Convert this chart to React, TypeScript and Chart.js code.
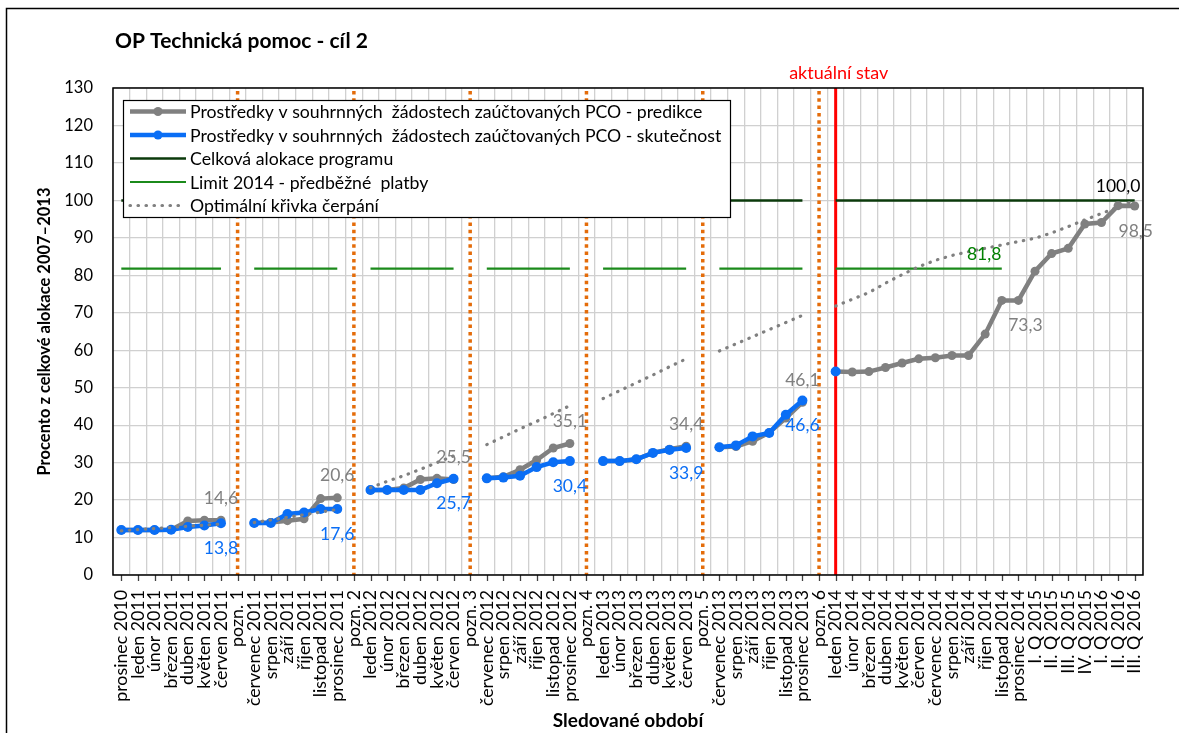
import React, { useEffect, useRef } from 'react';
import { Chart, registerables } from 'chart.js';

Chart.register(...registerables);

const FONT = "Lato, 'Open Sans', sans-serif";

const categories = [
  'prosinec 2010', 'leden 2011', 'únor 2011', 'březen 2011', 'duben 2011', 'květen 2011', 'červen 2011', 'pozn. 1',
  'červenec 2011', 'srpen 2011', 'září 2011', 'říjen 2011', 'listopad 2011', 'prosinec 2011', 'pozn. 2',
  'leden 2012', 'únor 2012', 'březen 2012', 'duben 2012', 'květen 2012', 'červen 2012', 'pozn. 3',
  'červenec 2012', 'srpen 2012', 'září 2012', 'říjen 2012', 'listopad 2012', 'prosinec 2012', 'pozn. 4',
  'leden 2013', 'únor 2013', 'březen 2013', 'duben 2013', 'květen 2013', 'červen 2013', 'pozn. 5',
  'červenec 2013', 'srpen 2013', 'září 2013', 'říjen 2013', 'listopad 2013', 'prosinec 2013', 'pozn. 6',
  'leden 2014', 'únor 2014', 'březen 2014', 'duben 2014', 'květen 2014', 'červen 2014', 'červenec 2014',
  'srpen 2014', 'září 2014', 'říjen 2014', 'listopad 2014', 'prosinec 2014',
  'I. Q 2015', 'II. Q 2015', 'III. Q 2015', 'IV. Q 2015', 'I. Q 2016', 'II. Q 2016', 'III. Q 2016',
];

const predikce = [
  12.0, 12.0, 12.0, 12.1, 14.4, 14.6, 14.6, null,
  13.9, 14.0, 14.5, 15.0, 20.4, 20.6, null,
  22.7, 22.7, 23.2, 25.5, 25.8, 25.5, null,
  25.8, 26.2, 28.1, 30.7, 33.9, 35.1, null,
  30.4, 30.4, 30.9, 32.6, 33.6, 34.4, null,
  34.1, 34.3, 35.7, 38.0, 41.9, 46.1, null,
  54.3, 54.2, 54.3, 55.4, 56.6, 57.7, 58.0, 58.6, 58.6, 64.3, 73.3, 73.3,
  81.1, 85.8, 87.2, 93.7, 94.1, 98.6, 98.5,
];

const skutecnost = [
  12.0, 12.0, 12.0, 12.1, 12.8, 13.2, 13.8, null,
  13.9, 13.9, 16.3, 16.7, 17.6, 17.6, null,
  22.7, 22.7, 22.7, 22.7, 24.5, 25.7, null,
  25.8, 26.0, 26.5, 28.8, 30.1, 30.4, null,
  30.4, 30.4, 30.9, 32.6, 33.4, 33.9, null,
  34.1, 34.6, 37.0, 37.9, 42.8, 46.6, null,
  54.3, null, null, null, null, null, null, null, null, null, null, null,
  null, null, null, null, null, null, null,
];

const alokace = [
  100, 100, 100, 100, 100, 100, 100, null,
  100, 100, 100, 100, 100, 100, null,
  100, 100, 100, 100, 100, 100, null,
  100, 100, 100, 100, 100, 100, null,
  100, 100, 100, 100, 100, 100, null,
  100, 100, 100, 100, 100, 100, null,
  100, 100, 100, 100, 100, 100, 100, 100, 100, 100, 100, 100,
  100, 100, 100, 100, 100, 100, 100,
];

const limit2014 = [
  81.8, 81.8, 81.8, 81.8, 81.8, 81.8, 81.8, null,
  81.8, 81.8, 81.8, 81.8, 81.8, 81.8, null,
  81.8, 81.8, 81.8, 81.8, 81.8, 81.8, null,
  81.8, 81.8, 81.8, 81.8, 81.8, 81.8, null,
  81.8, 81.8, 81.8, 81.8, 81.8, 81.8, null,
  81.8, 81.8, 81.8, 81.8, 81.8, 81.8, null,
  81.8, 81.8, 81.8, 81.8, 81.8, 81.8, 81.8, 81.8, 81.8, 81.8, 81.8, null,
  null, null, null, null, null, null, null,
];

const optimalni = [
  11.8, 12.1, 12.4, 12.7, 13.0, 13.3, 13.6, null,
  14.0, 14.7, 15.4, 16.1, 16.8, 17.5, null,
  23.3, 25.0, 26.5, 28.2, 30.0, 31.8, null,
  34.8, 36.9, 39.0, 41.0, 43.1, 45.2, null,
  47.1, 49.2, 51.3, 53.4, 55.6, 57.7, null,
  59.8, 61.7, 63.6, 65.5, 67.4, 69.3, null,
  71.8, 73.6, 75.4, 77.9, 80.2, 82.3, 84.0, 85.3, 86.3, 87.2, 88.1, 89.0,
  89.9, 91.3, 93.0, 94.8, 96.5, 98.2, 100.0,
];

const seriesNames = [
  'Prostředky v souhrnných  žádostech zaúčtovaných PCO - predikce',
  'Prostředky v souhrnných  žádostech zaúčtovaných PCO - skutečnost',
  'Celková alokace programu',
  'Limit 2014 - předběžné  platby',
  'Optimální křivka čerpání',
];

const poznIdx = [7, 14, 21, 28, 35, 42];
const currentIdx = 43;
const predLabelsAbove = [6, 13, 20, 27, 34, 41];
const predLabelsBelow = [54, 61];
const actLabelsBelow = [6, 13, 20, 27, 34, 41];
const alokaceLabelIdx = 60;
const limitLabelIdx = 52;

const chartTitle = 'OP Technická pomoc - cíl 2';
const currentLabel = 'aktuální stav';
const yTitle = 'Procento z celkové alokace 2007–2013';
const xTitle = 'Sledované období';

const GRAY = '#808080';
const BLUE = '#0A6EF5';
const DARKGREEN = '#0B3A0B';
const GREEN = '#1B8A1B';

const fmt = (v: number) => v.toFixed(1).replace('.', ',');

const decorPlugin = {
  id: 'decor',
  beforeDraw(chart: any) {
    const ctx = chart.ctx;
    ctx.save();
    ctx.fillStyle = '#fff';
    ctx.fillRect(0, 0, chart.width, chart.height);
    ctx.strokeStyle = '#000';
    ctx.lineWidth = 1.5;
    ctx.strokeRect(6.5, 8.5, chart.width + 20, chart.height + 20);
    ctx.fillStyle = '#000';
    ctx.font = `bold 21px ${FONT}`;
    ctx.textAlign = 'left';
    ctx.textBaseline = 'alphabetic';
    ctx.fillText(chartTitle, 115, 48);
    ctx.restore();
  },
  beforeDatasetsDraw(chart: any) {
    const { ctx, chartArea: a } = chart;
    const x = chart.scales.x;
    ctx.save();
    ctx.strokeStyle = '#E46C0A';
    ctx.lineWidth = 3.5;
    ctx.setLineDash([3.5, 3.8]);
    poznIdx.forEach((i) => {
      const px = x.getPixelForValue(i);
      ctx.beginPath();
      ctx.moveTo(px, a.top + 3);
      ctx.lineTo(px, a.bottom);
      ctx.stroke();
    });
    ctx.setLineDash([]);
    const rx = x.getPixelForValue(currentIdx);
    ctx.strokeStyle = '#FF0000';
    ctx.lineWidth = 3;
    ctx.beginPath();
    ctx.moveTo(rx, a.top);
    ctx.lineTo(rx, a.bottom);
    ctx.stroke();
    ctx.fillStyle = '#FF0000';
    ctx.font = `18px ${FONT}`;
    ctx.textAlign = 'center';
    ctx.textBaseline = 'alphabetic';
    ctx.fillText(currentLabel, rx + 3, 79);
    ctx.strokeStyle = '#404040';
    ctx.lineWidth = 1.3;
    categories.forEach((_, i) => {
      const px = Math.round(x.getPixelForValue(i)) + 0.5;
      ctx.beginPath();
      ctx.moveTo(px, a.bottom);
      ctx.lineTo(px, a.bottom + 6);
      ctx.stroke();
    });
    ctx.strokeStyle = '#000';
    ctx.lineWidth = 1.5;
    ctx.strokeRect(a.left, a.top, a.right - a.left, a.bottom - a.top);
    ctx.restore();
  },
  afterDatasetsDraw(chart: any) {
    const ctx = chart.ctx;
    ctx.save();
    const lx = 123.5, ly = 100.5, lw = 607, lh = 117;
    ctx.fillStyle = '#fff';
    ctx.fillRect(lx, ly, lw, lh);
    ctx.strokeStyle = '#000';
    ctx.lineWidth = 1.2;
    ctx.strokeRect(lx, ly, lw, lh);
    chart.data.datasets.forEach((ds: any, k: number) => {
      const ry = ly + 11 + k * 23.5;
      ctx.save();
      ctx.strokeStyle = ds.borderColor;
      ctx.lineWidth = ds.borderWidth;
      ctx.lineCap = ds.borderCapStyle || 'butt';
      ctx.setLineDash(ds.borderDash || []);
      ctx.beginPath();
      ctx.moveTo(130, ry);
      ctx.lineTo(186, ry);
      ctx.stroke();
      ctx.restore();
      if (ds.pointRadius > 0) {
        ctx.fillStyle = ds.borderColor;
        ctx.beginPath();
        ctx.arc(158, ry, 4.5, 0, Math.PI * 2);
        ctx.fill();
      }
      ctx.fillStyle = '#000';
      ctx.font = `17.7px ${FONT}`;
      ctx.textAlign = 'left';
      ctx.textBaseline = 'middle';
      ctx.fillText(ds.label, 190, ry + 1);
    });

    ctx.font = `17.5px ${FONT}`;
    ctx.textAlign = 'center';
    ctx.textBaseline = 'middle';
    const put = (dsIndex: number, idx: number, color: string, dx: number, dy: number) => {
      const meta = chart.getDatasetMeta(dsIndex);
      const el = meta.data[idx];
      const v = chart.data.datasets[dsIndex].data[idx];
      if (!el || v == null) return;
      ctx.fillStyle = color;
      ctx.fillText(fmt(v), el.x + dx, el.y + dy);
    };
    predLabelsAbove.forEach((i) => put(0, i, GRAY, 0, -22));
    predLabelsBelow.forEach((i) => put(0, i, GRAY, i === 54 ? 7 : 1, 25));
    actLabelsBelow.forEach((i) => put(1, i, BLUE, 0, 25));
    put(2, alokaceLabelIdx, '#000', 0, -14);
    put(3, limitLabelIdx, '#008000', -1, -14);
    ctx.restore();
  },
};

export default function App() {
  const ref = useRef<HTMLCanvasElement | null>(null);
  useEffect(() => {
    if (!ref.current) return;
    const chart = new Chart(ref.current, {
      type: 'line',
      data: {
        labels: categories,
        datasets: [
          {
            label: seriesNames[0], data: predikce, borderColor: GRAY, backgroundColor: GRAY,
            borderWidth: 4.5, pointRadius: 4.5, pointBackgroundColor: GRAY, pointBorderWidth: 0, order: 2,
          },
          {
            label: seriesNames[1], data: skutecnost, borderColor: BLUE, backgroundColor: BLUE,
            borderWidth: 4.5, pointRadius: 5, pointBackgroundColor: BLUE, pointBorderWidth: 0, order: 1,
          },
          {
            label: seriesNames[2], data: alokace, borderColor: DARKGREEN, backgroundColor: DARKGREEN,
            borderWidth: 2.5, pointRadius: 0, order: 4,
          },
          {
            label: seriesNames[3], data: limit2014, borderColor: GREEN, backgroundColor: GREEN,
            borderWidth: 2.2, pointRadius: 0, order: 3,
          },
          {
            label: seriesNames[4], data: optimalni, borderColor: GRAY, backgroundColor: GRAY,
            borderWidth: 3.2, pointRadius: 0, borderDash: [0.5, 7.5], borderCapStyle: 'round', order: 0,
          },
        ] as any,
      },
      options: {
        animation: false,
        responsive: false,
        devicePixelRatio: 1,
        layout: { padding: { top: 88, right: 36, left: 0, bottom: 0 } },
        plugins: { legend: { display: false }, tooltip: { enabled: false }, title: { display: false } },
        scales: {
          x: {
            type: 'category',
            offset: true,
            grid: { offset: true, color: '#D0D0D0', lineWidth: 1.3, drawTicks: false },
            border: { display: false },
            ticks: {
              autoSkip: false, maxRotation: 90, minRotation: 90, padding: 15, color: '#000',
              font: { family: FONT, size: 17.8 },
            },
            title: {
              display: true, text: xTitle, color: '#000',
              font: { family: FONT, size: 19, weight: 'bold' }, padding: { top: 0, bottom: 1 },
            },
            afterFit: (s: any) => { s.height = 158; },
          },
          y: {
            min: 0, max: 130,
            ticks: { stepSize: 10, padding: 20, color: '#000', font: { family: FONT, size: 16.5 } },
            grid: { color: '#D0D0D0', lineWidth: 1.3, drawTicks: false },
            border: { display: false },
            title: {
              display: true, text: yTitle, color: '#000',
              font: { family: FONT, size: 16.5, weight: 'bold' }, padding: { top: 35, bottom: 0 },
            },
            afterFit: (s: any) => { s.width = 113; },
          },
        },
      } as any,
      plugins: [decorPlugin],
    });
    return () => chart.destroy();
  }, []);
  return (
    <div style={{ position: 'fixed', left: 0, top: 0, width: 1179, height: 733, background: '#fff' }}>
      <canvas ref={ref} width={1179} height={733} style={{ display: 'block' }} />
    </div>
  );
}
